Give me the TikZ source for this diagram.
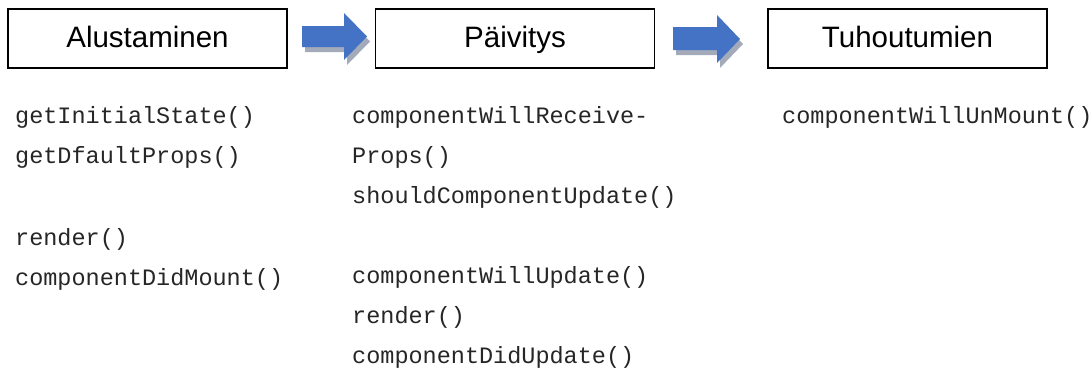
\documentclass[tikz,border=0pt]{standalone}
\usepackage{fontspec}
\setmainfont{Liberation Sans}
\newfontfamily\codefont{Liberation Mono}
\definecolor{arrowblue}{HTML}{4472C4}
\definecolor{arrowshade}{HTML}{A3ABBB}
\definecolor{codegray}{HTML}{262626}
\begin{document}
\begin{tikzpicture}[x=1pt,y=-1pt,
  phase/.style={draw=black,line width=1.4pt,minimum width=279pt,minimum height=59pt,inner sep=0pt},
  phaselabel/.style={anchor=base,inner sep=0pt,font=\fontsize{29.5}{34}\selectfont},
  code/.style={anchor=base west,inner sep=0pt,text=codegray,font=\codefont\fontsize{23.5}{28}\selectfont},
  blockarrow/.style={fill=arrowblue},
  blockshade/.style={fill=arrowshade}]
\useasboundingbox (0,0) rectangle (1091,372);
% phase boxes
\node[phase] (b1) at (147.5,38.5) {};
\node[phase] (b2) at (515,38.5) {};
\node[phase] (b3) at (907.5,38.5) {};
\node[phaselabel] (t1) at (147.5,47) {Alustaminen};
\node[phaselabel] (t2) at (515,47) {Päivitys};
\node[phaselabel] (t3) at (907.5,47) {Tuhoutumien};
% block arrows (shadow then arrow)
\fill[blockshade] (305,31) -- (347,31) -- (347,18) -- (370,41.5) -- (347,65) -- (347,52) -- (305,52) -- cycle;
\fill[blockarrow] (302,26) -- (344,26) -- (344,13) -- (367,36.5) -- (344,60) -- (344,47) -- (302,47) -- cycle;
\fill[blockshade] (676,32) -- (720,32) -- (720,20) -- (743,44) -- (720,68) -- (720,55) -- (676,55) -- cycle;
\fill[blockarrow] (673,27) -- (717,27) -- (717,15) -- (740,39) -- (717,63) -- (717,50) -- (673,50) -- cycle;
% column 1
\node[code] (c11) at (15,123) {getInitialState()};
\node[code] (c12) at (15,163) {getDfaultProps()};
\node[code] (c13) at (15,245) {render()};
\node[code] (c14) at (15,285) {componentDidMount()};
% column 2
\node[code] (c21) at (352,123) {componentWillReceive-};
\node[code] (c22) at (352,163) {Props()};
\node[code] (c23) at (352,203) {shouldComponentUpdate()};
\node[code] (c24) at (352,283) {componentWillUpdate()};
\node[code] (c25) at (352,323) {render()};
\node[code] (c26) at (352,363) {componentDidUpdate()};
% column 3
\node[code] (c31) at (782,123) {componentWillUnMount()};
\end{tikzpicture}
\end{document}
